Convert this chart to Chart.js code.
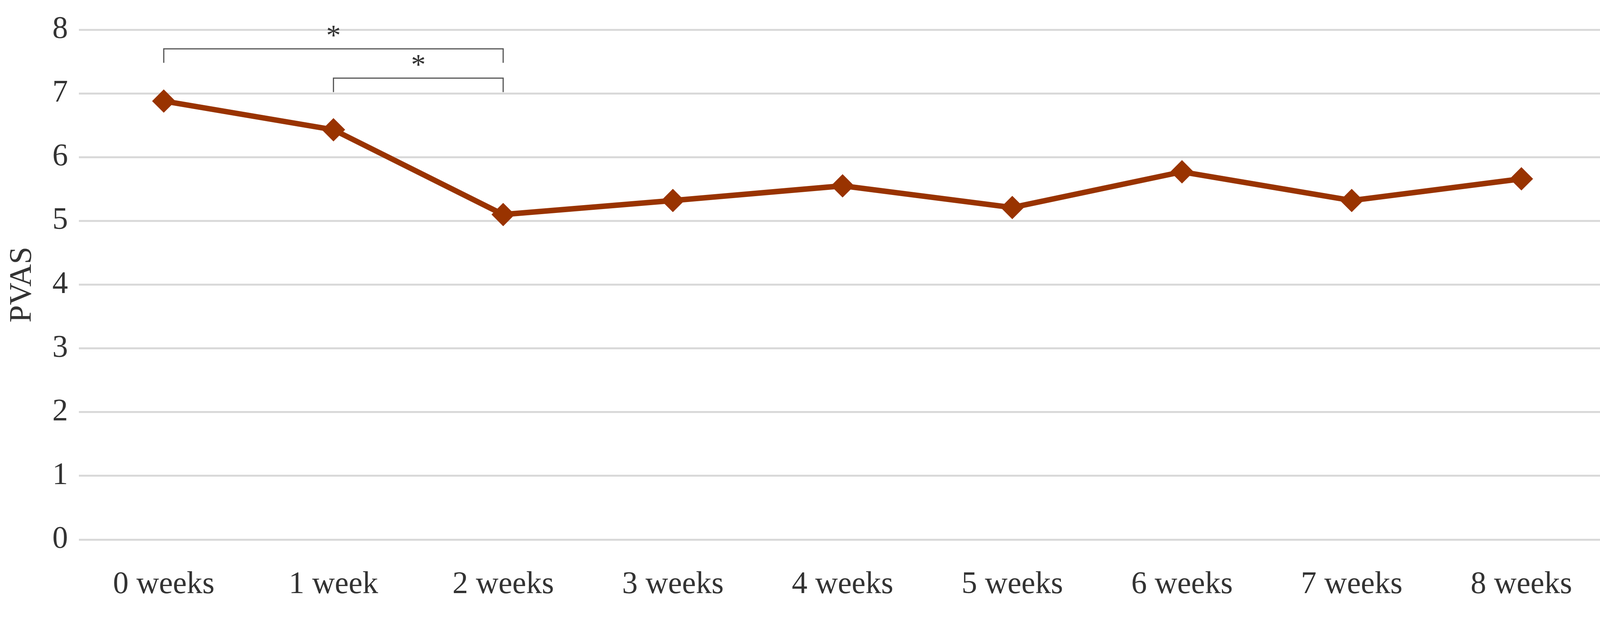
<!DOCTYPE html>
<html><head><meta charset="utf-8">
<script src="https://cdn.jsdelivr.net/npm/chart.js@4"></script>
<style>html,body{margin:0;background:#fff}#w{width:4146px;height:1615px}</style>
</head><body><div id="w"><canvas id="c"></canvas></div>
<script>
const categories=["0 weeks","1 week","2 weeks","3 weeks","4 weeks","5 weeks","6 weeks","7 weeks","8 weeks"];
const pvas=[6.88,6.43,5.10,5.32,5.55,5.21,5.77,5.32,5.66];
const brackets=[{from:0,to:2,y:7.7,drop:7.48,label:"*"},{from:1,to:2,y:7.24,drop:7.02,label:"*"}];
const FONT="'Liberation Serif', serif";
const bracketPlugin={id:'br',afterDatasetsDraw(ch){
 const ctx=ch.ctx,x=ch.scales.x,y=ch.scales.y;
 ctx.save();ctx.strokeStyle='#555';ctx.lineWidth=3;ctx.fillStyle='#333';
 ctx.font="75px "+FONT;ctx.textAlign='center';ctx.textBaseline='bottom';
 brackets.forEach(b=>{const x1=x.getPixelForValue(b.from),x2=x.getPixelForValue(b.to),yy=y.getPixelForValue(b.y),yd=y.getPixelForValue(b.drop);
  ctx.beginPath();ctx.moveTo(x1,yd);ctx.lineTo(x1,yy);ctx.lineTo(x2,yy);ctx.lineTo(x2,yd);ctx.stroke();
  ctx.fillText(b.label,(x1+x2)/2,yy+8);});
 ctx.restore();}};
new Chart(document.getElementById('c'),{type:'line',
 data:{labels:categories,datasets:[{data:pvas,borderColor:'#993300',backgroundColor:'#993300',borderWidth:14,
  pointStyle:'rectRot',pointRadius:20,pointHoverRadius:20,tension:0}]},
 options:{responsive:true,maintainAspectRatio:false,animation:false,
  layout:{padding:{top:14,right:14,bottom:10,left:10}},
  plugins:{legend:{display:false},tooltip:{enabled:false}},
  scales:{
   x:{offset:true,grid:{display:false},border:{display:false},ticks:{color:'#333',font:{family:FONT,size:80},padding:60}},
   y:{min:0,max:8,ticks:{stepSize:1,color:'#333',font:{family:FONT,size:80},padding:28},
    grid:{color:'#d9d9d9',lineWidth:5,drawTicks:false},border:{display:false},
    title:{display:true,text:'PVAS',color:'#333',font:{family:FONT,size:80},padding:0}}
  }},
 plugins:[bracketPlugin]});
</script></body></html>
